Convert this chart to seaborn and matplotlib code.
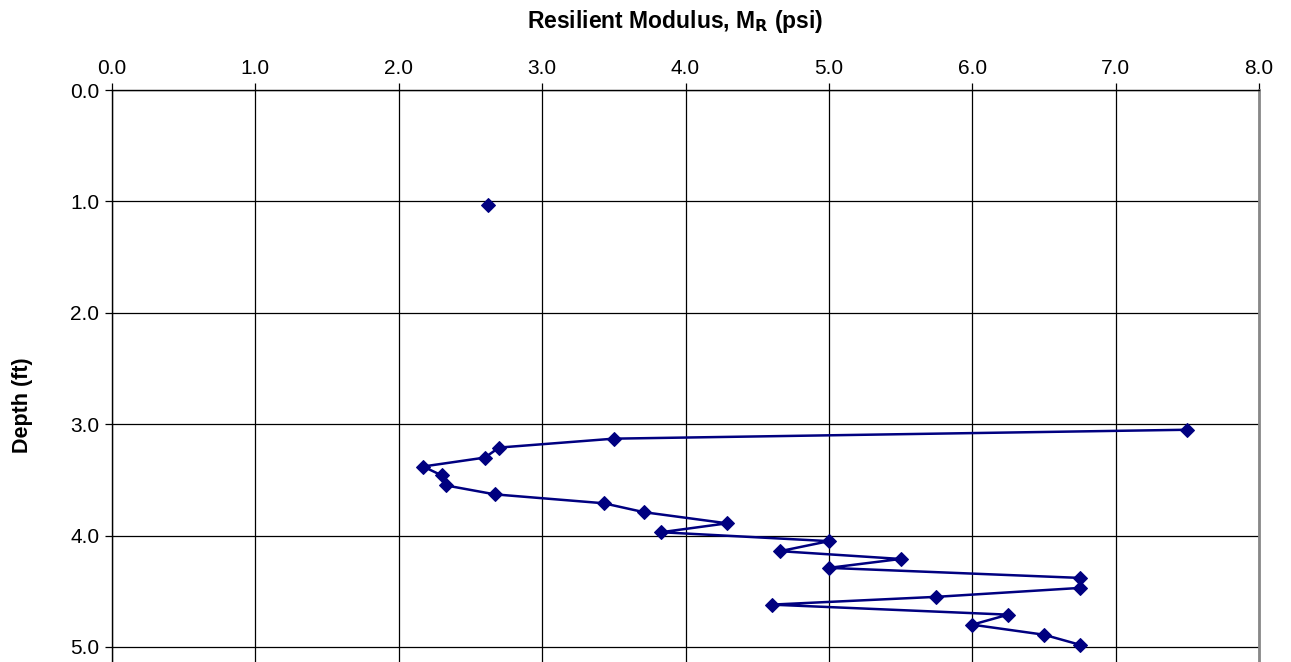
import numpy as np
import pandas as pd
import matplotlib
matplotlib.use("Agg")
import matplotlib.pyplot as plt
import seaborn as sns

# Resilient modulus profile vs depth
depth_ft = [1.03,
            3.05, 3.13, 3.21, 3.30, 3.38, 3.46, 3.55, 3.63, 3.71, 3.79, 3.89, 3.97,
            4.05, 4.14, 4.21, 4.29, 4.38, 4.47, 4.55, 4.62, 4.71, 4.80, 4.89, 4.98]
modulus_psi = [2.62,
               7.50, 3.50, 2.70, 2.60, 2.17, 2.30, 2.33, 2.67, 3.43, 3.71, 4.29, 3.83,
               5.00, 4.66, 5.50, 5.00, 6.75, 6.75, 5.75, 4.60, 6.25, 6.00, 6.50, 6.75]
segment = [0] + [1] * 24

x_ticks = [0, 1, 2, 3, 4, 5, 6, 7, 8]
y_ticks = [0, 1, 2, 3, 4, 5]

df = pd.DataFrame({"depth": depth_ft, "mr": modulus_psi, "seg": segment})

sns.set_theme(style="white")
plt.rcParams["font.family"] = ["Liberation Sans", "DejaVu Sans"]
plt.rcParams["text.color"] = "black"
plt.rcParams["axes.labelcolor"] = "black"

fig = plt.figure(figsize=(12.91, 6.62), dpi=100)
ax = fig.add_axes([112 / 1291, 0.0, (1259 - 112) / 1291, 1 - 90 / 662])

sns.lineplot(data=df, x="mr", y="depth", units="seg", estimator=None, sort=False,
             color="#000080", lw=1.8, marker="D", markersize=7,
             markeredgecolor="#000080", ax=ax, legend=False)

ax.set_xlim(0, 8)
ax.set_ylim(5.135, 0)
ax.set_xticks(x_ticks)
ax.set_yticks(y_ticks)
ax.xaxis.set_major_formatter(matplotlib.ticker.FormatStrFormatter("%.1f"))
ax.yaxis.set_major_formatter(matplotlib.ticker.FormatStrFormatter("%.1f"))
ax.xaxis.tick_top()
ax.xaxis.set_label_position("top")
ax.tick_params(axis="both", direction="out", length=5, width=0.9, color="black",
               labelsize=15, labelcolor="black", pad=4)
ax.tick_params(axis="x", top=True, bottom=False)
ax.tick_params(axis="y", left=True, right=False)

ax.grid(True, color="black", lw=0.9)
ax.set_axisbelow(True)
for side in ["top", "left"]:
    ax.spines[side].set_color("black")
    ax.spines[side].set_linewidth(1.0)
ax.spines["right"].set_color("#888888")
ax.spines["right"].set_linewidth(2.0)
ax.spines["bottom"].set_visible(False)

ax.set_xlabel(r"Resilient Modulus, M$_\mathbf{R}$ (psi)", fontsize=16.5,
              fontweight="bold", color="black")
ax.xaxis.set_label_coords(0.491, 1.109)
ax.set_ylabel("Depth (ft)", fontsize=15.5, fontweight="bold", color="black")
ax.yaxis.set_label_coords(-0.069, 0.449)

fig.savefig("out.png", dpi=100)
